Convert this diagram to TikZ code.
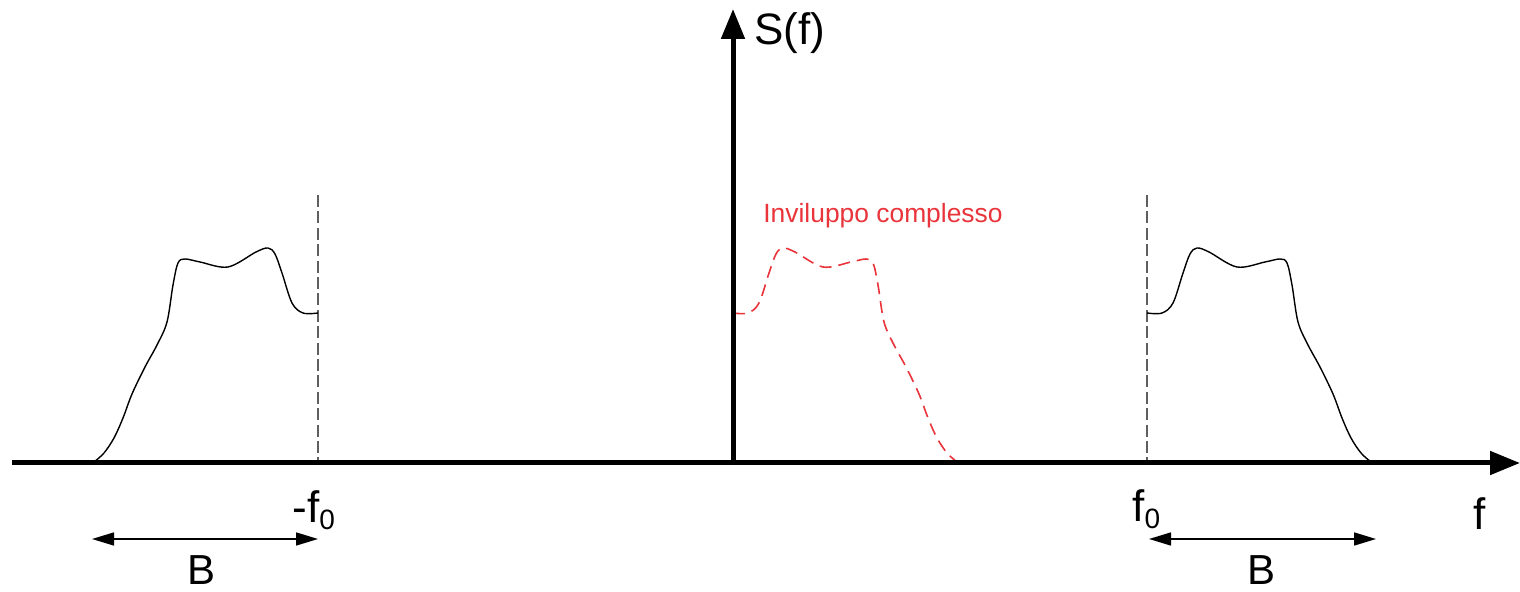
\documentclass[tikz,border=0pt]{standalone}
\usepackage{fontspec}
\setmainfont{Liberation Sans}
\usetikzlibrary{arrows.meta}
\newcommand{\lowsub}[1]{\raisebox{-3.5pt}{\fontsize{14}{14}\selectfont #1}}
\definecolor{envred}{RGB}{232,52,58}
\definecolor{guidegray}{RGB}{95,95,95}
\tikzset{
  axisline/.style={line width=2.5pt, -{Triangle[length=15pt,width=11.5pt]}},
  spectrum/.style={line width=0.7pt, black},
  envelope/.style={line width=0.8pt, envred, dash pattern=on 6pt off 3.5pt},
  guide/.style={line width=0.8pt, guidegray, dash pattern=on 6pt off 2.2pt},
  bwarrow/.style={line width=0.8pt, {Triangle[length=11pt,width=6.5pt]}-{Triangle[length=11pt,width=6.5pt]}},
  lbl/.style={inner sep=0pt, anchor=base west, font=\fontsize{22}{22}\selectfont},
  shapeplot/.style={smooth, tension=0.55}
}
\newcommand{\bandshape}{plot[shapeplot] coordinates {(0,313) (15,313) (26,303) (36,273) (43,254) (50,248) (62,252) (90,267) (118,262) (133,259) (140,263) (145,285) (151,322) (161,345) (173,367) (186,394) (195,418) (204,438) (214,453) (224,462)}}
\begin{document}
\begin{tikzpicture}[x=0.5pt, y=-0.5pt]
\useasboundingbox (0,0) rectangle (1520,592);
% guide lines
\coordinate (gl1) at (318,195); \coordinate (gl2) at (318,463);
\coordinate (gr1) at (1147,195); \coordinate (gr2) at (1147,463);
\draw[guide] (gl1) -- (gl2);
\draw[guide] (gr1) -- (gr2);
% spectra
\begin{scope}[shift={(318,0)}, xscale=-1]
  \draw[spectrum] \bandshape;
\end{scope}
\begin{scope}[shift={(1147,0)}]
  \draw[spectrum] \bandshape;
\end{scope}
\begin{scope}[shift={(733,0)}]
  \draw[envelope] \bandshape;
\end{scope}
% axes
\coordinate (xstart) at (12,463);
\coordinate (xend) at (1520,463);
\coordinate (origin) at (733,465);
\coordinate (ytop) at (733,9);
\draw[axisline] (xstart) -- (xend);
\draw[axisline] (origin) -- (ytop);
% bandwidth arrows
\coordinate (bl1) at (92,539); \coordinate (bl2) at (318,539);
\coordinate (br1) at (1149,539); \coordinate (br2) at (1376,539);
\draw[bwarrow] (bl1) -- (bl2);
\draw[bwarrow] (br1) -- (br2);
% labels
\node[lbl] (sf) at (754,45) {S(f)};
\node[lbl] (mf0) at (292,523) {-f\lowsub{0}};
\node[lbl] (f0) at (1132,522) {f\lowsub{0}};
\node[lbl] (f) at (1473,530) {f};
\node[lbl, font=\fontsize{21}{21}\selectfont] (bl) at (187,584) {B};
\node[lbl, font=\fontsize{21}{21}\selectfont] (br) at (1247,584) {B};
\node[lbl, font=\fontsize{13.2}{13.2}\selectfont, text=envred] (env) at (763,223) {Inviluppo complesso};
\end{tikzpicture}
\end{document}
